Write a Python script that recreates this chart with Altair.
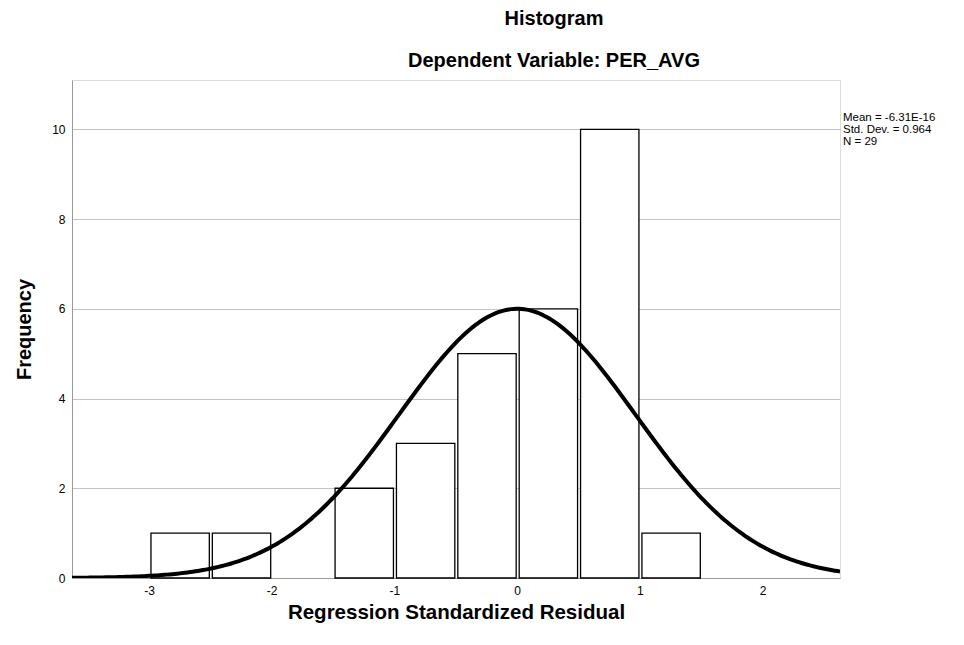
import altair as alt
import numpy as np
import pandas as pd

# Histogram bins
bin_starts = [-3.0, -2.5, -1.5, -1.0, -0.5, 0.0, 0.5, 1.0]
bin_width = 0.5
counts = [1, 1, 2, 3, 5, 6, 10, 1]

# Summary statistics shown on the chart
stat_mean = -6.31e-16
stat_sd = 0.964
stat_n = 29
stats_lines = ["Mean = -6.31E-16", "Std. Dev. = 0.964", "N = 29"]

x_domain = [-3.627, 2.63]
y_domain = [0, 11.1]
x_ticks = [-3, -2, -1, 0, 1, 2]
y_ticks = [0, 2, 4, 6, 8, 10]

FONT = "Liberation Sans"

bars = pd.DataFrame({
    "start": bin_starts,
    "end": [b + bin_width for b in bin_starts],
    "count": counts,
})

# normal curve defined by the displayed mean / std. dev. / N
xs = np.linspace(x_domain[0], x_domain[1], 300)
ys = stat_n * bin_width / (stat_sd * np.sqrt(2 * np.pi)) * np.exp(-0.5 * ((xs - stat_mean) / stat_sd) ** 2)
curve = pd.DataFrame({"x": xs, "y": ys})

xscale = alt.Scale(domain=x_domain, nice=False, zero=False)
yscale = alt.Scale(domain=y_domain, nice=False, zero=False)

x_axis = alt.Axis(
    values=x_ticks, title="Regression Standardized Residual", grid=False, ticks=False, tickSize=0,
    labelPadding=7, labelFontSize=12, labelFont=FONT, labelColor="#000000",
    labelExpr="'' + datum.value",
    domainColor="#9a9a9a", domainWidth=1,
    titleFont=FONT, titleFontSize=20.5, titleFontWeight="bold", titleColor="#000000",
    titleY=40, titleBaseline="alphabetic",
)
y_axis = alt.Axis(
    values=y_ticks, title="Frequency", grid=True, gridColor="#c4c4c4", gridWidth=1,
    ticks=False, tickSize=0, labelPadding=7, labelFontSize=12, labelFont=FONT, labelColor="#000000",
    labelExpr="'' + datum.value",
    domainColor="#9a9a9a", domainWidth=1,
    titleFont=FONT, titleFontSize=20, titleFontWeight="bold", titleColor="#000000",
    titleAngle=270, titleX=-48, titleY=249, titleAlign="center", titleBaseline="middle",
)

bar_layer = alt.Chart(bars).mark_bar(
    fill="white", stroke="#000000", strokeWidth=1.3, binSpacing=3
).encode(
    x=alt.X("start:Q", bin="binned", scale=xscale, axis=x_axis),
    x2="end:Q",
    y=alt.Y("count:Q", scale=yscale, axis=y_axis),
    y2=alt.Y2(datum=0),
)

curve_layer = alt.Chart(curve).mark_line(color="#000000", strokeWidth=4, clip=True).encode(
    x=alt.X("x:Q", scale=xscale),
    y=alt.Y("y:Q", scale=yscale),
)

stats_layer = alt.Chart(pd.DataFrame({"t": [stats_lines]})).mark_text(
    align="left", baseline="middle", font=FONT, fontSize=11.5, lineHeight=12, color="#000000"
).encode(
    x=alt.value(771),
    y=alt.value(38),
    text="t",
)

chart = alt.layer(bar_layer, curve_layer, stats_layer).properties(
    width=768,
    height=498,
    padding={"left": 72, "top": 80, "right": 124, "bottom": 67},
    autosize=alt.AutoSizeParams(type="none"),
    title=alt.TitleParams(
        text="Histogram", subtitle="Dependent Variable: PER_AVG",
        anchor="middle", frame="group", dx=98, offset=9,
        font=FONT, fontSize=20, fontWeight="bold", color="#000000",
        subtitleFont=FONT, subtitleFontSize=20, subtitleFontWeight="bold", subtitleColor="#000000",
        subtitlePadding=22,
    ),
).configure_view(stroke=None).configure(background="white")

chart.save("out.html", embed_options={"renderer": "svg", "actions": False})
